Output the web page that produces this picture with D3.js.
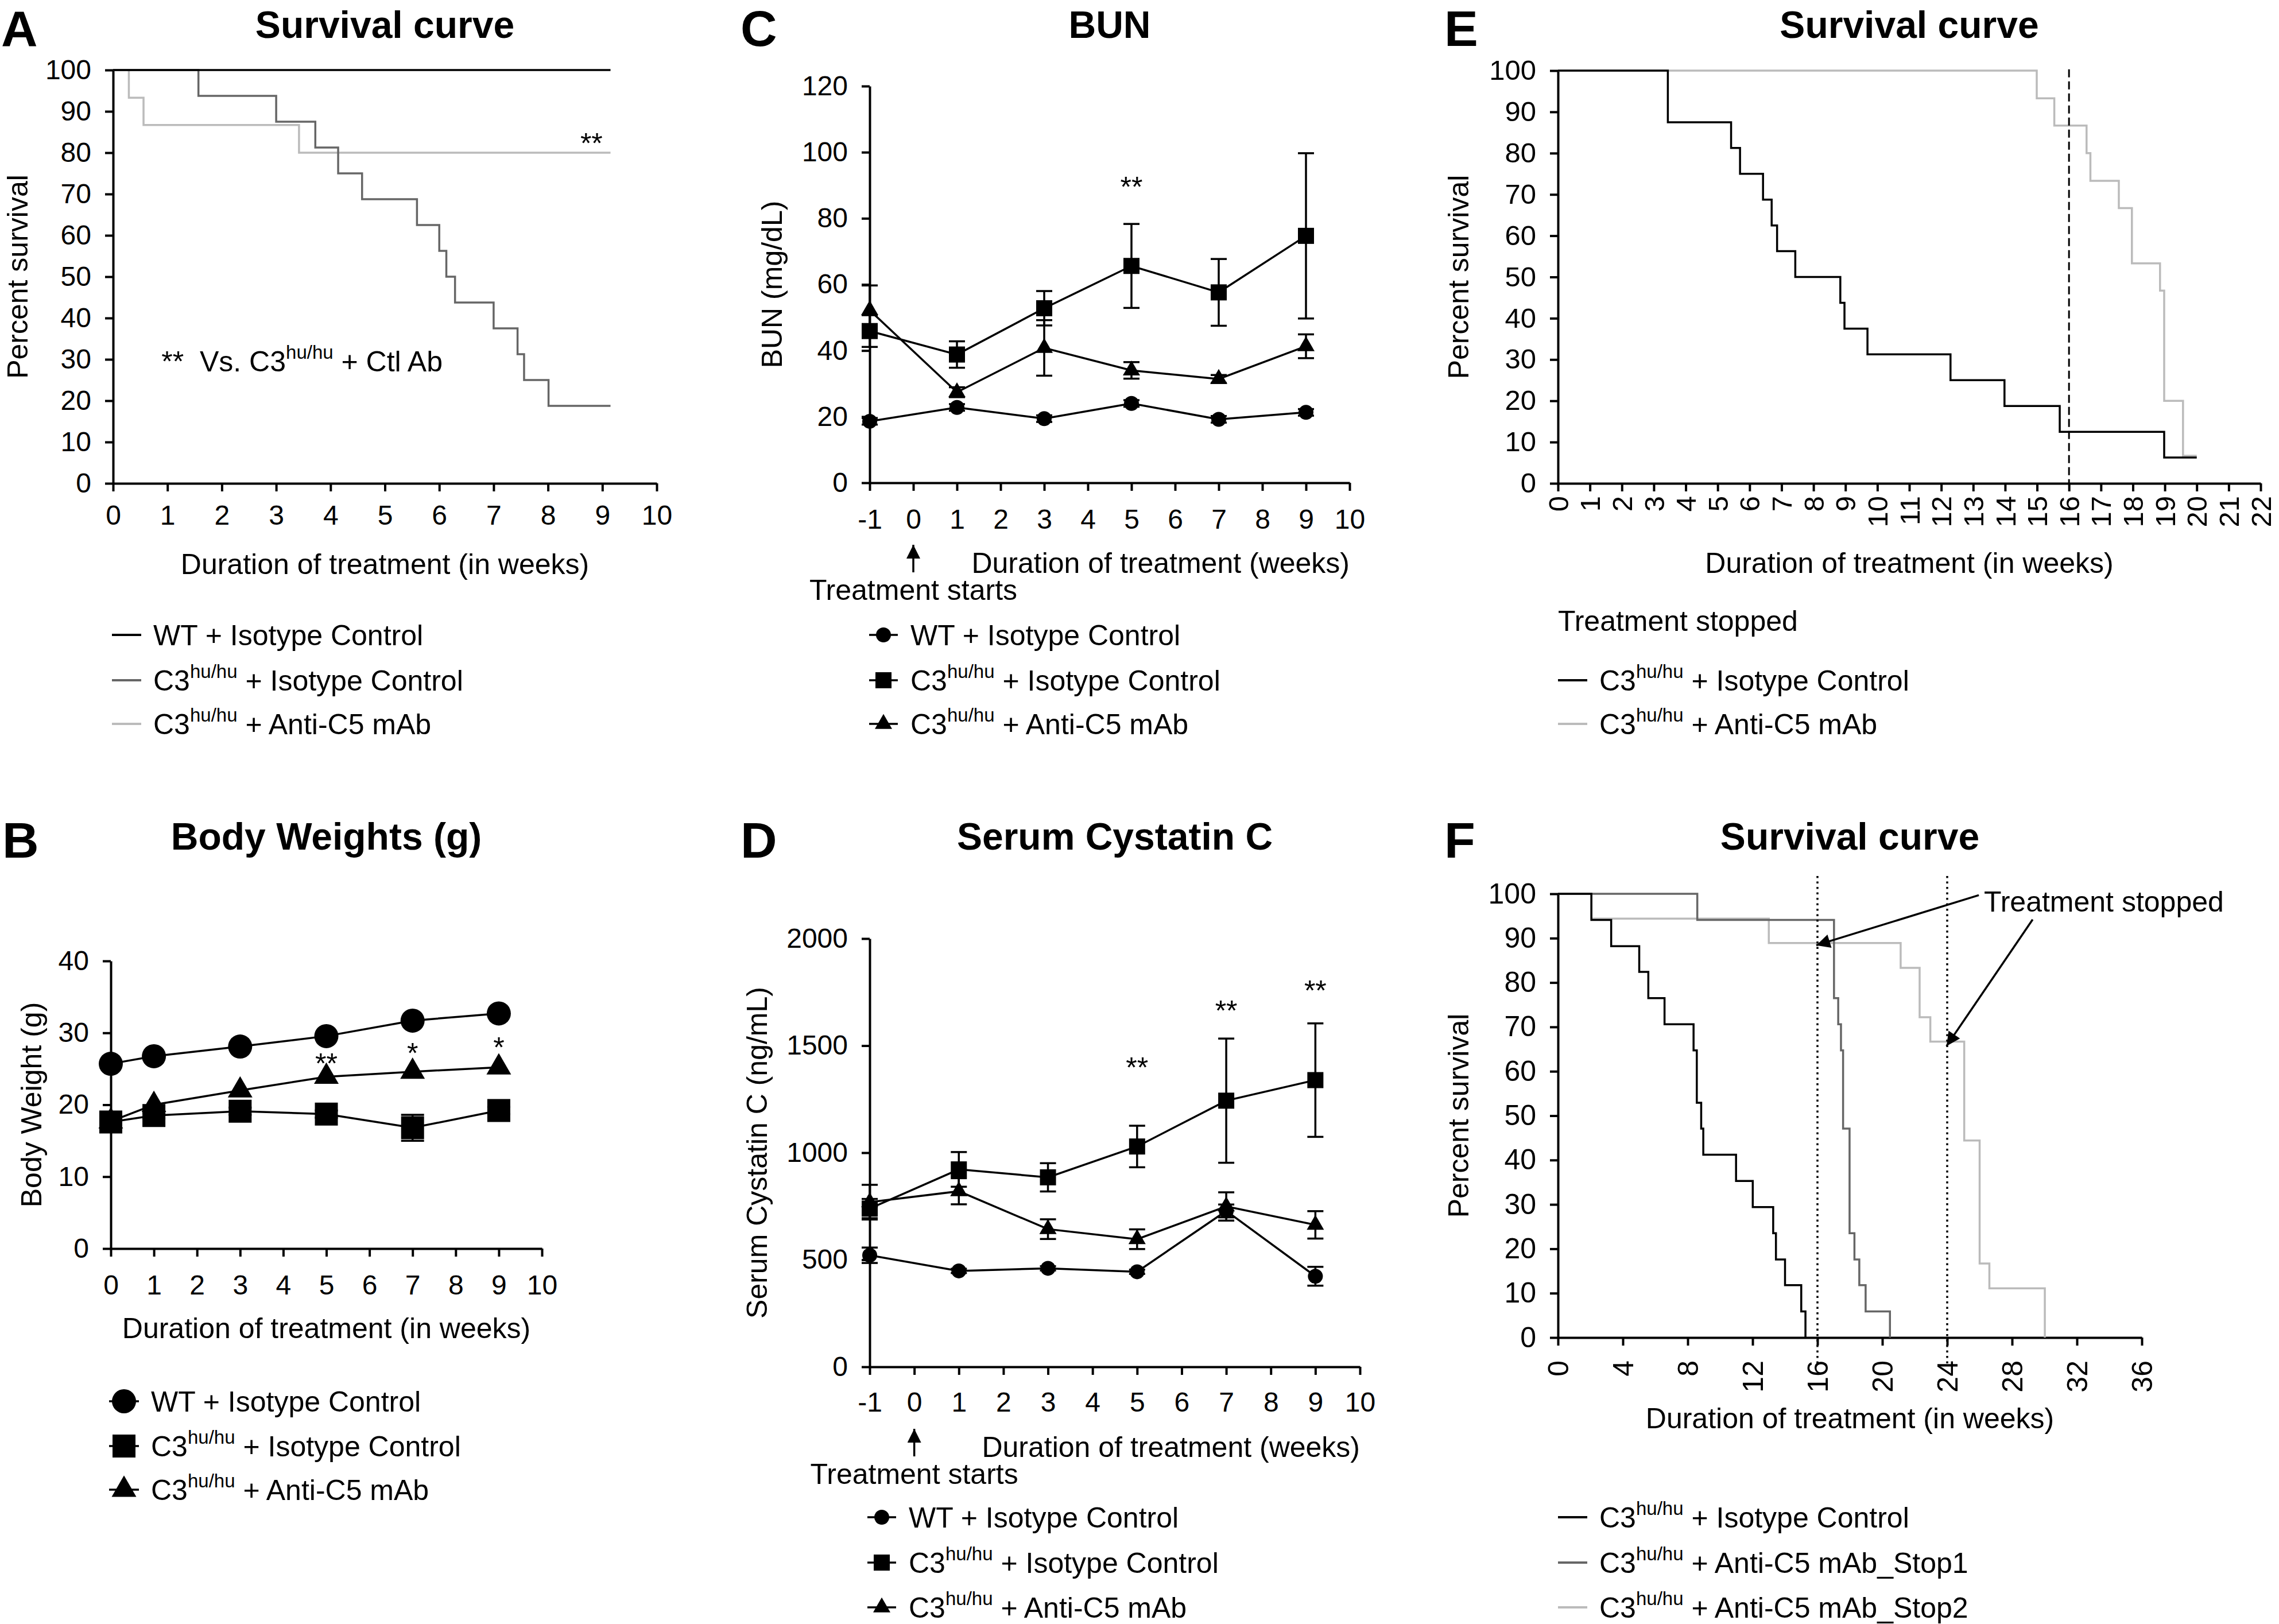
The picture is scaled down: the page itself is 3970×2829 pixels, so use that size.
<!DOCTYPE html>
<html>
<head>
<meta charset="utf-8">
<script src="https://cdn.jsdelivr.net/npm/d3@7"></script>
<style>
  body { margin: 0; background: #fff; }
  svg text { font-family: "Liberation Sans", Arial, Helvetica, sans-serif; fill: #000; }
  .axis path, .axis line { stroke: #000; stroke-width: 4px; }
  .axis text { font-size: 48px; fill: #000; }
  .title { font-size: 66px; font-weight: bold; }
  .letter { font-size: 88px; font-weight: bold; }
  .label { font-size: 50px; white-space: pre; }
</style>
</head>
<body>
<div id="figure"></div>
<script>

// ---- A: survival, weeks 0-10
var aWtTimes = [0, 9.15];
var aWtSurv = [100, 100];
var aIsoTimes = [0, 1.57, 3.0, 3.72, 4.14, 4.58, 5.59, 6.0, 6.13, 6.29, 7.0, 7.44, 7.56, 8.01, 9.15];
var aIsoSurv = [100, 93.75, 87.5, 81.25, 75, 68.75, 62.5, 56.25, 50, 43.75, 37.5, 31.25, 25, 18.75, 18.75];
var aAntiTimes = [0, 0.29, 0.56, 3.42, 9.15];
var aAntiSurv = [100, 93.3, 86.7, 80, 80];
var aXTicks = d3.range(0, 11, 1);
var aYTicks = d3.range(0, 101, 10);

// ---- B: body weights
var bWeeks = [0, 1, 3, 5, 7, 9];
var bWt = [25.7, 26.75, 28.1, 29.55, 31.7, 32.7];
var bIso = [17.6, 18.5, 19.1, 18.7, 16.8, 19.2];
var bIsoErr = [0.8, 0.4, 0.5, 0.5, 1.8, 0.5];
var bAnti = [17.7, 20.0, 22.0, 23.9, 24.6, 25.2];
var bStars = [{week: 5, value: 26.6, text: "**"}, {week: 7, value: 28.0, text: "*"}, {week: 9, value: 28.8, text: "*"}];
var bXTicks = d3.range(0, 11, 1);
var bYTicks = [0, 10, 20, 30, 40];

// ---- C: BUN
var cWeeks = [-1, 1, 3, 5, 7, 9];
var cWt = [18.6, 22.8, 19.4, 24.0, 19.2, 21.3];
var cWtErr = [1, 1, 1, 1, 1, 1];
var cIso = [45.9, 38.8, 52.8, 65.6, 57.6, 74.7];
var cIsoErr = [4.8, 4.0, 5.2, 12.7, 10.1, 25.0];
var cAnti = [52.2, 27.4, 40.8, 34.0, 31.4, 41.3];
var cAntiErr = [7.5, 1.5, 8.4, 2.5, 1.2, 3.6];
var cStars = [{week: 5, value: 91.3, text: "**"}];
var cXTicks = d3.range(-1, 11, 1);
var cYTicks = d3.range(0, 121, 20);

// ---- D: serum cystatin C
var dWeeks = [-1, 1, 3, 5, 7, 9];
var dWt = [521, 448, 460, 444, 728, 423];
var dWtErr = [36, 10, 10, 10, 30, 44];
var dIso = [739, 922, 885, 1029, 1243, 1339];
var dIsoErr = [45, 81, 66, 97, 290, 265];
var dAnti = [769, 820, 643, 596, 749, 663];
var dAntiErr = [81, 61, 46, 46, 66, 64];
var dStars = [{week: 5, value: 1426, text: "**"}, {week: 7, value: 1691, text: "**"}, {week: 9, value: 1786, text: "**"}];
var dXTicks = d3.range(-1, 11, 1);
var dYTicks = [0, 500, 1000, 1500, 2000];

// ---- E: survival, treatment stopped at week 16
var eIsoTimes = [0, 3.44, 5.42, 5.70, 6.42, 6.69, 6.86, 7.43, 8.84, 8.97, 9.69, 12.29, 13.98, 15.71, 18.98, 20];
var eIsoSurv = [100, 87.5, 81.25, 75, 68.75, 62.5, 56.25, 50, 43.75, 37.5, 31.25, 25, 18.75, 12.5, 6.25, 6.25];
var eAntiTimes = [0, 14.99, 15.54, 16.55, 16.67, 17.56, 17.97, 18.85, 18.98, 19.57, 20];
var eAntiSurv = [100, 93.3, 86.7, 80, 73.3, 66.7, 53.3, 46.7, 20, 6.67, 6.67];
var eStopWeek = 16;
var eXTicks = d3.range(0, 23, 1);
var eYTicks = d3.range(0, 101, 10);

// ---- F: survival, two stop schedules
var fIsoTimes = [0, 2.06, 3.28, 5.01, 5.57, 6.57, 8.36, 8.56, 8.83, 8.96, 10.98, 12.01, 13.27, 13.44, 14.0, 15.0, 15.26];
var fIsoSurv = [100, 94.1, 88.2, 82.4, 76.5, 70.6, 64.7, 52.9, 47.1, 41.2, 35.3, 29.4, 23.5, 17.6, 11.8, 5.9, 0];
var fStop1Times = [0, 8.59, 17.02, 17.28, 17.45, 17.58, 17.98, 18.28, 18.58, 18.97, 20.47];
var fStop1Surv = [100, 94.1, 76.5, 70.6, 64.7, 47.1, 23.5, 17.6, 11.8, 5.9, 0];
var fStop2Times = [0, 2.06, 13.0, 21.13, 22.3, 22.96, 25.05, 26.0, 26.6, 30.02];
var fStop2Surv = [100, 94.4, 88.9, 83.3, 72.2, 66.7, 44.4, 16.7, 11.1, 0];
var fStopWeeks = [16, 24];
// arrows from the "Treatment stopped" note to the stop lines: [fromWeek, fromPct, toWeek, toPct]
var fArrows = [[25.95, 99.7, 15.93, 88.4], [29.27, 94.2, 23.96, 65.7]];
var fXTicks = d3.range(0, 37, 4);
var fYTicks = d3.range(0, 101, 10);

// legend labels (text, superscript, rest)
var labelWt = ["WT + Isotype Control"];
var labelIso = ["C3", "hu/hu", " + Isotype Control"];
var labelAnti = ["C3", "hu/hu", " + Anti-C5 mAb"];
var labelStop1 = ["C3", "hu/hu", " + Anti-C5 mAb_Stop1"];
var labelStop2 = ["C3", "hu/hu", " + Anti-C5 mAb_Stop2"];

var black = "#000", darkGray = "#666", lightGray = "#bbb";

var svg = d3.select("#figure").append("svg")
  .attr("width", 3970)
  .attr("height", 2829);

svg.append("rect").attr("width", 3970).attr("height", 2829).attr("fill", "#fff");

// arrow head used by the annotation arrows
svg.append("defs").append("marker")
  .attr("id", "arrowhead")
  .attr("viewBox", "0 0 10 10")
  .attr("refX", 10)
  .attr("refY", 5)
  .attr("markerWidth", 32)
  .attr("markerHeight", 24)
  .attr("markerUnits", "userSpaceOnUse")
  .attr("orient", "auto")
  .append("path")
  .attr("d", "M0,0 L10,5 L0,10 Z")
  .attr("fill", "#000");

// plot boxes in pixels
var layout = {
  A: {left: 197, right: 1144, top: 122, bottom: 842},
  B: {left: 193, right: 944, top: 1674, bottom: 2175},
  C: {left: 1515, right: 2351, top: 150, bottom: 841},
  D: {left: 1515, right: 2369, top: 1635, bottom: 2381},
  E: {left: 2714, right: 3938, top: 123, bottom: 842},
  F: {left: 2714, right: 3731, top: 1557, bottom: 2330}
};

// plain integer labels, hyphen for negatives, no thousands separator
var plainNumber = d => String(d);

function makeScales(box, xDomain, yDomain) {
  return {
    x: d3.scaleLinear().domain(xDomain).range([box.left, box.right]),
    y: d3.scaleLinear().domain(yDomain).range([box.bottom, box.top])
  };
}

function drawAxes(box, s, xTicks, yTicks, xPad, rotateX, fontSize) {
  var yAxis = svg.append("g")
    .attr("class", "axis")
    .attr("transform", `translate(${box.left},0)`)
    .call(d3.axisLeft(s.y).tickValues(yTicks).tickFormat(plainNumber)
      .tickSize(14).tickPadding(24).tickSizeOuter(0));
  var xAxis = svg.append("g")
    .attr("class", "axis")
    .attr("transform", `translate(0,${box.bottom})`)
    .call(d3.axisBottom(s.x).tickValues(xTicks).tickFormat(plainNumber)
      .tickSize(14).tickPadding(xPad).tickSizeOuter(0));
  if (rotateX) {
    xAxis.selectAll("text")
      .attr("transform", "rotate(-90)")
      .attr("text-anchor", "end")
      .attr("x", -(14 + xPad))
      .attr("y", 0)
      .attr("dy", "0.35em");
  }
  if (fontSize) {
    yAxis.selectAll("text").style("font-size", fontSize + "px");
    xAxis.selectAll("text").style("font-size", fontSize + "px");
  }
}

function writeLabel(textSel, parts) {
  textSel.append("tspan").text(parts[0]);
  if (parts.length > 1) {
    textSel.append("tspan").attr("dy", -22).style("font-size", "33px").text(parts[1]);
    textSel.append("tspan").attr("dy", 22).text(parts[2]);
  }
}

function titles(box, letter, letterX, baseline, title, yLabel, yLabelX, xLabel, xLabelY, xLabelAnchor) {
  svg.append("text").attr("class", "letter").attr("x", letterX).attr("y", baseline + 14).text(letter);
  svg.append("text").attr("class", "title")
    .attr("x", (box.left + box.right) / 2).attr("y", baseline)
    .attr("text-anchor", "middle").text(title);
  svg.append("text").attr("class", "label")
    .attr("transform", `translate(${yLabelX},${(box.top + box.bottom) / 2}) rotate(-90)`)
    .attr("text-anchor", "middle").text(yLabel);
  var xl = svg.append("text").attr("class", "label").attr("y", xLabelY).text(xLabel);
  if (xLabelAnchor === "end") {
    xl.attr("x", box.right).attr("text-anchor", "end");
  } else {
    xl.attr("x", (box.left + box.right) / 2).attr("text-anchor", "middle");
  }
}

var stepLine = function(s) {
  return d3.line().x(d => s.x(d[0])).y(d => s.y(d[1])).curve(d3.curveStepAfter);
};

function drawSteps(s, times, surv, color) {
  svg.append("path")
    .datum(d3.zip(times, surv))
    .attr("d", stepLine(s))
    .attr("fill", "none")
    .attr("stroke", color)
    .attr("stroke-width", 3.5);
}

function lineLegend(x, rows, labels, colors) {
  rows.forEach(function(rowY, i) {
    svg.append("line")
      .attr("x1", x).attr("x2", x + 51)
      .attr("y1", rowY).attr("y2", rowY)
      .attr("stroke", colors[i]).attr("stroke-width", 4);
    writeLabel(svg.append("text").attr("class", "label").attr("x", x + 72).attr("y", rowY + 18), labels[i]);
  });
}

function drawErrors(s, weeks, values, errs, capW) {
  var bars = svg.append("g").selectAll("g")
    .data(d3.zip(weeks, values, errs))
    .enter()
    .append("g");
  bars.append("line")
    .attr("x1", d => s.x(d[0])).attr("x2", d => s.x(d[0]))
    .attr("y1", d => s.y(d[1] - d[2])).attr("y2", d => s.y(d[1] + d[2]))
    .attr("stroke", "#000").attr("stroke-width", 3.5);
  [-1, 1].forEach(function(sign) {
    bars.append("line")
      .attr("x1", d => s.x(d[0]) - capW / 2).attr("x2", d => s.x(d[0]) + capW / 2)
      .attr("y1", d => s.y(d[1] + sign * d[2])).attr("y2", d => s.y(d[1] + sign * d[2]))
      .attr("stroke", "#000").attr("stroke-width", 3.5);
  });
}

function drawSeries(s, weeks, values, symbolType, size) {
  var pts = d3.zip(weeks, values);
  svg.append("path")
    .datum(pts)
    .attr("d", d3.line().x(d => s.x(d[0])).y(d => s.y(d[1])))
    .attr("fill", "none")
    .attr("stroke", "#000")
    .attr("stroke-width", 3.5);
  svg.append("g").selectAll("path")
    .data(pts)
    .enter()
    .append("path")
    .attr("transform", d => `translate(${s.x(d[0])},${s.y(d[1])})`)
    .attr("d", d3.symbol().type(symbolType).size(size))
    .attr("fill", "#000");
}

function drawStars(s, stars) {
  svg.append("g").selectAll("text")
    .data(stars)
    .enter()
    .append("text")
    .attr("class", "label")
    .attr("x", d => s.x(d.week))
    .attr("y", d => s.y(d.value) + 28)
    .attr("text-anchor", "middle")
    .text(d => d.text);
}

function markerLegend(x, rows, labels, symbols, sizes, lineW) {
  rows.forEach(function(rowY, i) {
    svg.append("line")
      .attr("x1", x - lineW / 2).attr("x2", x + lineW / 2)
      .attr("y1", rowY).attr("y2", rowY)
      .attr("stroke", "#000").attr("stroke-width", 3.5);
    svg.append("path")
      .attr("transform", `translate(${x},${rowY})`)
      .attr("d", d3.symbol().type(symbols[i]).size(sizes[i]))
      .attr("fill", "#000");
    writeLabel(svg.append("text").attr("class", "label").attr("x", x + 47).attr("y", rowY + 18), labels[i]);
  });
}

function treatmentStarts(s, box) {
  var x0 = s.x(0);
  svg.append("line")
    .attr("x1", x0).attr("x2", x0)
    .attr("y1", box.bottom + 156).attr("y2", box.bottom + 108)
    .attr("stroke", "#000").attr("stroke-width", 3.5)
    .attr("marker-end", "url(#arrowhead)");
  svg.append("text").attr("class", "label")
    .attr("x", x0).attr("y", box.bottom + 204)
    .attr("text-anchor", "middle").text("Treatment starts");
}

// ---------- panel A
var sA = makeScales(layout.A, [0, 10], [0, 100]);
drawAxes(layout.A, sA, aXTicks, aYTicks, 24, false);
titles(layout.A, "A", 2, 66, "Survival curve", "Percent survival", 48, "Duration of treatment (in weeks)", 1000);
drawSteps(sA, aAntiTimes, aAntiSurv, lightGray);
drawSteps(sA, aIsoTimes, aIsoSurv, darkGray);
drawSteps(sA, aWtTimes, aWtSurv, black);
drawStars(sA, [{week: 8.8, value: 83.8, text: "**"}]);
writeLabel(svg.append("text").attr("class", "label").attr("x", sA.x(0.89)).attr("y", sA.y(27.1)), ["**  Vs. C3", "hu/hu", " + Ctl Ab"]);
lineLegend(195, [1106, 1185, 1261], [labelWt, labelIso, labelAnti], [black, darkGray, lightGray]);

// ---------- panel B
var sB = makeScales(layout.B, [0, 10], [0, 40]);
drawAxes(layout.B, sB, bXTicks, bYTicks, 32, false);
titles(layout.B, "B", 4, 1480, "Body Weights (g)", "Body Weight (g)", 72, "Duration of treatment (in weeks)", 2331);
drawErrors(sB, bWeeks, bIso, bIsoErr, 40);
drawSeries(sB, bWeeks, bAnti, d3.symbolTriangle, 800);
drawSeries(sB, bWeeks, bIso, d3.symbolSquare, 1600);
drawSeries(sB, bWeeks, bWt, d3.symbolCircle, 1385);
drawStars(sB, bStars);
markerLegend(216, [2441, 2519, 2595], [labelWt, labelIso, labelAnti],
  [d3.symbolCircle, d3.symbolSquare, d3.symbolTriangle], [1385, 1600, 800], 52);

// ---------- panel C
var sC = makeScales(layout.C, [-1, 10], [0, 120]);
drawAxes(layout.C, sC, cXTicks, cYTicks, 32, false);
titles(layout.C, "C", 1290, 66, "BUN", "BUN (mg/dL)", 1362, "Duration of treatment (weeks)", 998, "end");
drawErrors(sC, cWeeks, cWt, cWtErr, 28);
drawErrors(sC, cWeeks, cIso, cIsoErr, 28);
drawErrors(sC, cWeeks, cAnti, cAntiErr, 28);
drawSeries(sC, cWeeks, cWt, d3.symbolCircle, 531);
drawSeries(sC, cWeeks, cIso, d3.symbolSquare, 784);
drawSeries(sC, cWeeks, cAnti, d3.symbolTriangle, 390);
drawStars(sC, cStars);
treatmentStarts(sC, layout.C);
markerLegend(1539, [1106, 1185, 1261], [labelWt, labelIso, labelAnti],
  [d3.symbolCircle, d3.symbolSquare, d3.symbolTriangle], [531, 784, 390], 50);

// ---------- panel D
var sD = makeScales(layout.D, [-1, 10], [0, 2000]);
drawAxes(layout.D, sD, dXTicks, dYTicks, 30, false);
titles(layout.D, "D", 1290, 1480, "Serum Cystatin C", "Serum Cystatin C (ng/mL)", 1336, "Duration of treatment (weeks)", 2538, "end");
drawErrors(sD, dWeeks, dWt, dWtErr, 28);
drawErrors(sD, dWeeks, dIso, dIsoErr, 28);
drawErrors(sD, dWeeks, dAnti, dAntiErr, 28);
drawSeries(sD, dWeeks, dWt, d3.symbolCircle, 531);
drawSeries(sD, dWeeks, dIso, d3.symbolSquare, 784);
drawSeries(sD, dWeeks, dAnti, d3.symbolTriangle, 390);
drawStars(sD, dStars);
treatmentStarts(sD, layout.D);
markerLegend(1536, [2643, 2722, 2800], [labelWt, labelIso, labelAnti],
  [d3.symbolCircle, d3.symbolSquare, d3.symbolTriangle], [531, 784, 390], 50);

// ---------- panel E
var sE = makeScales(layout.E, [0, 22], [0, 100]);
drawAxes(layout.E, sE, eXTicks, eYTicks, 8, true, 49);
titles(layout.E, "E", 2516, 66, "Survival curve", "Percent survival", 2558, "Duration of treatment (in weeks)", 998);
drawSteps(sE, eAntiTimes, eAntiSurv, lightGray);
drawSteps(sE, eIsoTimes, eIsoSurv, black);
svg.append("line")
  .attr("x1", sE.x(eStopWeek)).attr("x2", sE.x(eStopWeek))
  .attr("y1", sE.y(100.3)).attr("y2", sE.y(0))
  .attr("stroke", "#000").attr("stroke-width", 3)
  .attr("stroke-dasharray", "14,7");
svg.append("text").attr("class", "label").attr("x", layout.E.left).attr("y", 1099).text("Treatment stopped");
lineLegend(2714, [1185, 1261], [labelIso, labelAnti], [black, lightGray]);

// ---------- panel F
var sF = makeScales(layout.F, [0, 36], [0, 100]);
drawAxes(layout.F, sF, fXTicks, fYTicks, 26, true, 50);
titles(layout.F, "F", 2516, 1480, "Survival curve", "Percent survival", 2558, "Duration of treatment (in weeks)", 2488);
drawSteps(sF, fStop2Times, fStop2Surv, lightGray);
drawSteps(sF, fStop1Times, fStop1Surv, darkGray);
drawSteps(sF, fIsoTimes, fIsoSurv, black);
svg.append("g").selectAll("line")
  .data(fStopWeeks)
  .enter()
  .append("line")
  .attr("x1", d => sF.x(d)).attr("x2", d => sF.x(d))
  .attr("y1", sF.y(104)).attr("y2", sF.y(-6))
  .attr("stroke", "#000").attr("stroke-width", 3.5)
  .attr("stroke-dasharray", "3.5,6");
svg.append("g").selectAll("line")
  .data(fArrows)
  .enter()
  .append("line")
  .attr("x1", d => sF.x(d[0])).attr("y1", d => sF.y(d[1]))
  .attr("x2", d => sF.x(d[2])).attr("y2", d => sF.y(d[3]))
  .attr("stroke", "#000").attr("stroke-width", 3.5)
  .attr("marker-end", "url(#arrowhead)");
svg.append("text").attr("class", "label").attr("x", 3456).attr("y", 1588).text("Treatment stopped");
lineLegend(2714, [2643, 2722, 2800], [labelIso, labelStop1, labelStop2], [black, darkGray, lightGray]);

</script>
</body>
</html>
